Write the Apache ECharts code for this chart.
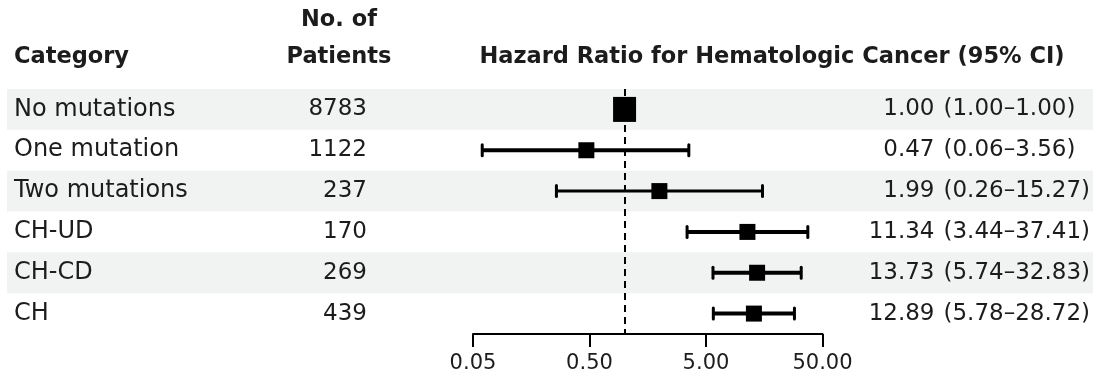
<!DOCTYPE html>
<html>
<head>
<meta charset="utf-8">
<script src="https://cdn.jsdelivr.net/npm/echarts@6/dist/echarts.min.js"></script>
<style>
html,body{margin:0;padding:0;background:#fff;}
#chart{width:1093px;height:380px;}
</style>
</head>
<body>
<div id="chart"></div>
<script>
// ---- data ----
const categories = ['No mutations', 'One mutation', 'Two mutations', 'CH-UD', 'CH-CD', 'CH'];
const patients = [8783, 1122, 237, 170, 269, 439];
const hazardRatio = [1.00, 0.47, 1.99, 11.34, 13.73, 12.89];
const ciLower = [1.00, 0.06, 0.26, 3.44, 5.74, 5.78];
const ciUpper = [1.00, 3.56, 15.27, 37.41, 32.83, 28.72];
const tickValues = [0.05, 0.50, 5.00, 50.00];

// ---- styles ----
const FONT = 'DejaVu Sans';
const TXT = '#1c1c1c';
const whiskerWidths = [4, 4, 3, 4, 4, 4];

const lg = v => Math.log10(v);
const hrText = hazardRatio.map(v => v.toFixed(2));
const ciText = ciLower.map((lo, i) => '(' + lo.toFixed(2) + '\u2013' + ciUpper[i].toFixed(2) + ')');

const GRID_TOP = 89, GRID_H = 245;

const chart = echarts.init(document.getElementById('chart'), null, {renderer: 'canvas'});

function renderWhisker(params, api) {
  const lo = api.value(0), hi = api.value(1), idx = api.value(2);
  if (lo === hi) return;
  const p1 = api.coord([lo, idx]);
  const p2 = api.coord([hi, idx]);
  const w = whiskerWidths[idx];
  const cap = 11;
  const st = {stroke: '#000', lineWidth: w, lineCap: 'butt'};
  const cs = {stroke: '#000', lineWidth: 3, lineCap: 'round'};
  return {
    type: 'group',
    children: [
      {type: 'line', shape: {x1: p1[0], y1: p1[1], x2: p2[0], y2: p2[1]}, style: st},
      {type: 'line', shape: {x1: p1[0], y1: p1[1] - cap / 2, x2: p1[0], y2: p1[1] + cap / 2}, style: cs},
      {type: 'line', shape: {x1: p2[0], y1: p2[1] - cap / 2, x2: p2[0], y2: p2[1] + cap / 2}, style: cs}
    ]
  };
}

const labelBase = {fontFamily: FONT, fontSize: 23, color: TXT};
const headFont = 'bold 22.5px "' + FONT + '"';
const hiddenAxis = {axisLine: {show: false}, axisTick: {show: false}, splitLine: {show: false}};

const option = {
  animation: false,
  backgroundColor: '#ffffff',
  textStyle: {fontFamily: FONT},
  graphic: [
    {type: 'text', x: 14, y: 57, style: {text: 'Category', font: headFont, fill: TXT, textAlign: 'left', textVerticalAlign: 'middle'}},
    {type: 'text', x: 339, y: 20, style: {text: 'No. of', font: headFont, fill: TXT, textAlign: 'center', textVerticalAlign: 'middle'}},
    {type: 'text', x: 339, y: 57, style: {text: 'Patients', font: headFont, fill: TXT, textAlign: 'center', textVerticalAlign: 'middle'}},
    {type: 'text', x: 772, y: 57, style: {text: 'Hazard Ratio for Hematologic Cancer (95% CI)', font: headFont, fill: TXT, textAlign: 'center', textVerticalAlign: 'middle'}}
  ],
  grid: [
    {left: 7, right: 0, top: GRID_TOP, height: GRID_H, show: false},
    {left: 473, right: 269, top: GRID_TOP, height: GRID_H, show: false}
  ],
  xAxis: [
    {gridIndex: 0, type: 'value', show: false, min: 0, max: 1},
    {
      gridIndex: 1, type: 'value',
      min: lg(0.05), max: lg(50),
      axisLine: {show: true, lineStyle: {color: '#000', width: 2}},
      axisTick: {show: true, customValues: tickValues.map(lg), length: 13, inside: false, lineStyle: {color: '#000', width: 2}},
      axisLabel: {show: true, customValues: tickValues.map(lg), margin: 19,
        formatter: v => Math.pow(10, v).toFixed(2), ...labelBase, fontSize: 21},
      splitLine: {show: false}
    }
  ],
  yAxis: [
    {
      gridIndex: 0, type: 'category', data: categories, inverse: true,
      axisLine: {show: false}, axisTick: {show: false}, axisLabel: {show: false},
      splitLine: {show: false},
      splitArea: {show: true, areaStyle: {color: ['#f1f3f2', 'rgba(255,255,255,0)']}}
    },
    {
      gridIndex: 1, type: 'category', data: patients.map(String), inverse: true, position: 'left',
      ...hiddenAxis,
      axisLabel: {interval: 0, margin: 106, align: 'right', ...labelBase}
    },
    {
      gridIndex: 1, type: 'category', data: categories, inverse: true, position: 'left',
      ...hiddenAxis,
      axisLabel: {interval: 0, margin: 459, align: 'left', ...labelBase, fontSize: 24}
    },
    {
      gridIndex: 1, type: 'category', data: hrText, inverse: true, position: 'right',
      ...hiddenAxis,
      axisLabel: {interval: 0, margin: 112, align: 'right', ...labelBase}
    },
    {
      gridIndex: 1, type: 'category', data: ciText, inverse: true, position: 'right',
      ...hiddenAxis,
      axisLabel: {interval: 0, margin: 121, align: 'left', ...labelBase}
    }
  ],
  series: [
    {
      type: 'custom', xAxisIndex: 1, yAxisIndex: 1,
      renderItem: renderWhisker,
      encode: {x: [0, 1], y: 2},
      data: categories.map((c, i) => [lg(ciLower[i]), lg(ciUpper[i]), i]),
      z: 3, silent: true
    },
    {
      type: 'scatter', xAxisIndex: 1, yAxisIndex: 1,
      symbol: 'rect',
      symbolSize: (v, p) => p.dataIndex === 0 ? [23, 25] : [16, 16],
      itemStyle: {color: '#000', opacity: 1},
      data: categories.map((c, i) => [lg(hazardRatio[i]), i]),
      z: 4, silent: true,
      markLine: {
        silent: true, symbol: ['none', 'none'],
        label: {show: false},
        lineStyle: {color: '#000', width: 2, type: [7, 5]},
        data: [{xAxis: lg(1)}],
        z: 2
      }
    }
  ]
};
chart.setOption(option);
</script>
</body>
</html>
